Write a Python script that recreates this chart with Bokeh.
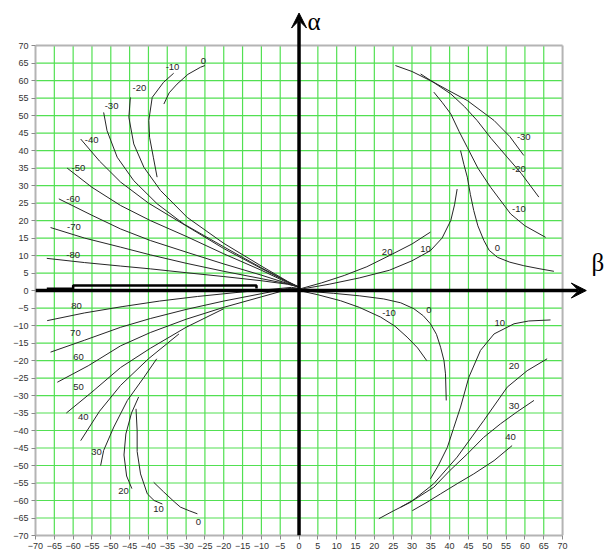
from bokeh.plotting import figure
from bokeh.models import Range1d, FixedTicker, Arrow, VeeHead
from bokeh.embed import file_html
from bokeh.resources import INLINE
from bokeh.core.properties import value

# ---- axis ticks (degrees) ----
tick_values = list(range(-70, 71, 5))

# ---- upper-left family (labels -80 ... 0) ----
ul_m80 = [(-67.0, 9.2), (-57, 8.0), (-47.4, 7.0), (-39.5, 6.2), (-30, 5.1), (-20, 4.0), (-10, 2.8), (-3, 1.8), (0, 1.0)]
ul_m70 = [(-66.0, 18.0), (-57, 15.0), (-47.4, 12.4), (-39.5, 10.2), (-30, 7.8), (-20, 5.5), (-10, 3.4), (-3, 1.9), (0, 1.0)]
ul_m60 = [(-63.8, 26.2), (-55, 21.5), (-47.4, 17.6), (-39.5, 14.3), (-30, 11.0), (-20, 7.6), (-10, 4.4), (-3, 2.0), (0, 1.0)]
ul_m50 = [(-61.6, 35.0), (-55, 29.5), (-47.4, 24.3), (-39.5, 20.0), (-30, 15.5), (-20, 10.5), (-10, 5.8), (-3, 2.2), (0, 1.0)]
ul_m40 = [(-58.0, 43.3), (-53, 37.0), (-47.4, 31.0), (-40, 25.0), (-30, 18.5), (-20, 12.0), (-10, 6.3), (-3, 2.4), (0, 1.0)]
ul_m30 = [(-51.9, 50.9), (-51.0, 45.7), (-48.3, 38.1), (-43.9, 31.4), (-37.7, 24.8), (-30.6, 19.0), (-20, 12.5), (-10, 6.5), (-3, 2.5), (0, 1.0)]
ul_m20 = [(-44.8, 55.2), (-45.2, 49.5), (-43.9, 41.9), (-41.2, 35.2), (-36.8, 28.6), (-29.7, 20.9), (-20, 13.5), (-10, 7.0), (-3, 2.6), (0, 1.0)]
ul_m10 = [(-33.3, 62.1), (-36.0, 59.5), (-39.0, 55.2), (-39.9, 48.6), (-39.7, 43.8), (-38.7, 38.1), (-37.7, 32.4)]
ul_0 = [(-35.9, 53.3), (-34.5, 56.5), (-32.4, 59.0), (-29.5, 61.8), (-26.2, 63.8), (-25.0, 64.3)]

# ---- lower-left family (labels 80 ... 0) ----
ll_80 = [(-66.9, -8.6), (-57, -6.4), (-47, -4.6), (-37, -3.0), (-27, -1.7), (-17, -0.6), (-8, 0.3), (-2, 0.9), (0, 0.6)]
ll_70 = [(-66.0, -17.6), (-57, -14.2), (-47.4, -10.5), (-39.5, -8.0), (-30, -5.4), (-20, -3.0), (-10, -0.9), (-3, 0.6), (0, 0.6)]
ll_60 = [(-64.2, -26.2), (-56, -21.5), (-47.4, -15.8), (-39.5, -12.0), (-30, -8.2), (-20, -4.8), (-10, -1.8), (-3, 0.3), (0, 0.6)]
ll_50 = [(-61.8, -35.0), (-55, -29.0), (-47.4, -22.0), (-39.5, -16.5), (-30, -10.5), (-20, -5.2)]
ll_40 = [(-58.0, -42.9), (-53, -34.5), (-47.4, -27.1), (-40, -19.5), (-31.9, -12.4)]
ll_30 = [(-52.7, -50.0), (-51.9, -45.7), (-49.2, -39.0), (-45.6, -31.4), (-41.2, -24.8), (-37.8, -19.5)]
ll_20 = [(-44.4, -56.6), (-45.8, -53.0), (-46.5, -47.0), (-46.0, -41.0), (-44.5, -35.0), (-42.6, -30.4)]
ll_10 = [(-36.3, -61.0), (-38.5, -60.0), (-40.3, -58.1), (-42.1, -52.4), (-43.0, -46.0), (-43.0, -40.0), (-43.3, -33.8)]
ll_0 = [(-38.6, -54.8), (-36.0, -57.5), (-33.0, -60.5), (-31.5, -61.9), (-29.0, -63.0), (-27.0, -63.8)]

# ---- upper-right family ----
ur_m30 = [(25.6, 64.3), (30, 62.6), (35.8, 59.5), (40, 57.0), (44.7, 54.3), (51.8, 48.6), (56, 44.0), (59.7, 38.6)]
ur_m20 = [(32.3, 61.9), (36, 59.3), (40.3, 56.2), (44, 52.5), (47.3, 48.6), (51, 43.5), (55.3, 38.1), (59, 33.5), (63.7, 26.7)]
ur_m10 = [(35.8, 56.7), (38, 53.8), (40.3, 50.5), (42.5, 45.5), (44.7, 40.9), (47.5, 35.0), (50.9, 29.5), (56.2, 21.9), (60, 18.5), (65.5, 15.2)]
ur_0 = [(42.9, 40.0), (43.8, 36.0), (44.7, 32.4), (45.5, 27.5), (46.4, 22.9), (47.5, 18.5), (49.1, 14.3), (50.5, 11.5), (52.7, 9.5), (56, 8.1), (59.7, 7.1), (64, 6.2), (67.7, 5.5)]
ur_10 = [(0, 0.3), (8, 1.8), (16, 3.6), (24, 5.8), (30, 8.5), (34.9, 11.4), (38, 15.0), (40.3, 20.0), (41.3, 24.5), (42, 29.0)]
ur_20 = [(0, 0.4), (6, 2.2), (12, 4.3), (18, 6.8), (24, 10.0), (30, 13.3), (34.9, 16.7)]

# ---- lower-right family ----
lr_m10 = [(0, 0), (5, -1.2), (11, -2.9), (16, -4.8), (21.7, -7.6), (25.5, -10.2), (28.7, -13.3), (31.5, -16.4), (33.9, -20.0)]
lr_0 = [(0, 0), (9.2, -0.8), (16, -1.5), (22.5, -2.4), (27, -3.5), (30.5, -5.2), (33, -7.2), (34.9, -9.5), (36.5, -12.5), (37.6, -16.2), (38.5, -20.0), (38.9, -23.8), (39.1, -31.4)]
lr_10 = [(34.9, -53.8), (37, -50.0), (39.4, -44.8), (41, -39.5), (42.9, -33.3), (45.1, -24.8), (48.2, -17.1), (51.8, -12.4), (57.1, -9.5), (61, -8.7), (66.8, -8.4)]
lr_20 = [(21.2, -65.2), (25, -63.0), (29.6, -60.5), (35.8, -55.2), (42, -47.6), (49.1, -37.1), (55.3, -27.6), (60.6, -22.9), (65.9, -19.5)]
lr_30 = [(27, -61.9), (31, -59.5), (35.8, -56.2), (40, -51.5), (44.7, -46.7), (49, -42.0), (53.5, -38.1), (58, -34.6), (62.4, -31.4)]
lr_40 = [(30.1, -62.9), (34, -60.5), (37.6, -58.1), (42, -55.2), (46.4, -52.4), (51.8, -48.6), (56.6, -44.3)]

# ---- heavy trace along the beta axis ----
bar_x = [-67, -60, -60, -11.3, -11.3]
bar_y = [0.5, 0.5, 1.45, 1.45, 0.6]

# ---- curve labels ----
label_text = ["-80", "-70", "-60", "-50", "-40", "-30", "-20", "-10", "0",
              "80", "70", "60", "50", "40", "30", "20", "10", "0",
              "-30", "-20", "-10", "0", "10", "20",
              "-10", "0", "10", "20", "30", "40"]
label_x = [-60.0, -59.8, -60.0, -58.6, -55.1, -49.8, -42.4, -33.6, -25.4,
           -59.1, -59.4, -58.6, -58.6, -57.3, -53.8, -46.6, -37.3, -26.7,
           59.7, 58.4, 58.4, 52.7, 33.6, 23.4,
           23.9, 34.5, 53.3, 57.1, 57.1, 56.2]
label_y = [10.2, 18.2, 26.2, 35.0, 43.0, 52.6, 58.0, 64.0, 65.6,
           -4.3, -12.0, -18.9, -27.7, -36.0, -46.0, -57.4, -62.3, -66.0,
           44.0, 34.8, 23.4, 12.2, 11.8, 11.0,
           -6.4, -5.7, -9.4, -21.7, -32.9, -41.9]

curves = [ul_m80, ul_m70, ul_m60, ul_m50, ul_m40, ul_m30, ul_m20, ul_m10, ul_0,
          ll_80, ll_70, ll_60, ll_50, ll_40, ll_30, ll_20, ll_10, ll_0,
          ur_m30, ur_m20, ur_m10, ur_0, ur_10, ur_20,
          lr_m10, lr_0, lr_10, lr_20, lr_30, lr_40]

lo, hi = tick_values[0], tick_values[-1]

p = figure(width=608, height=554,
           x_range=Range1d(-70, 82.2), y_range=Range1d(-70, 80.6),
           output_backend="svg", toolbar_location=None,
           min_border_left=35, min_border_right=0,
           min_border_top=8, min_border_bottom=19)
p.outline_line_color = None
p.xgrid.visible = False
p.ygrid.visible = False
p.background_fill_color = "white"
p.border_fill_color = "white"

for ax in (p.xaxis[0], p.yaxis[0]):
    ax.ticker = FixedTicker(ticks=tick_values, minor_ticks=[])
    ax.bounds = (lo, hi)
    ax.axis_line_color = "#b4b4b4"
    ax.axis_line_width = 2
    ax.major_tick_line_color = "#8a8a8a"
    ax.major_tick_out = 4
    ax.major_tick_in = 0
    ax.minor_tick_line_color = None
    ax.major_label_text_font = "Liberation Sans"
    ax.major_label_text_font_size = "9px"
    ax.major_label_text_color = "#333333"
    ax.major_label_standoff = 3

# green grid inside the frame
inner = tick_values[1:-1]
p.segment(x0=inner, y0=[lo] * len(inner), x1=inner, y1=[hi] * len(inner),
          line_color="#52e052", line_width=1.2)
p.segment(x0=[lo] * len(inner), y0=inner, x1=[hi] * len(inner), y1=inner,
          line_color="#52e052", line_width=1.2)

# grey frame on top and right
p.line([lo, hi], [hi, hi], line_color="#b4b4b4", line_width=2)
p.line([hi, hi], [lo, hi], line_color="#b4b4b4", line_width=2)

# curves
p.multi_line(xs=[[pt[0] for pt in c] for c in curves],
             ys=[[pt[1] for pt in c] for c in curves],
             line_color="#262626", line_width=1)

p.text(x=label_x, y=label_y, text=label_text,
       text_font=value("Liberation Sans"), text_font_size="9.5px",
       text_color="#262626", text_align="center", text_baseline="middle")

# heavy trace
p.line(bar_x, bar_y, line_color="black", line_width=2.5)

# alpha / beta axes with arrows
p.add_layout(Arrow(end=VeeHead(size=15, fill_color="black", line_color="black"),
                   x_start=0, y_start=lo, x_end=0, y_end=79.3,
                   line_color="black", line_width=3.5))
p.add_layout(Arrow(end=VeeHead(size=15, fill_color="black", line_color="black"),
                   x_start=lo, y_start=0, x_end=76.3, y_end=0,
                   line_color="black", line_width=3.5))

p.text(x=[4.0], y=[76.8], text=["α"], text_font=value("Liberation Serif"),
       text_font_size="25px", text_align="center", text_baseline="middle",
       text_color="black")
p.text(x=[79.4], y=[8.0], text=["β"], text_font=value("Liberation Serif"),
       text_font_size="25px", text_align="center", text_baseline="middle",
       text_color="black")

open("out.html", "w").write(file_html(p, INLINE))
